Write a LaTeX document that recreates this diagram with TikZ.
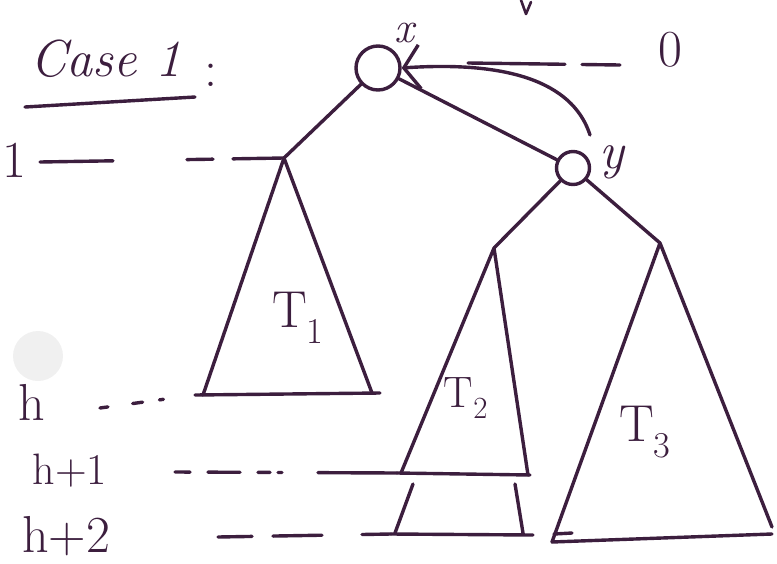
\documentclass[tikz,border=0pt]{standalone}
\usetikzlibrary{arrows.meta, positioning}
\definecolor{pen}{RGB}{60,30,62}
\tikzset{
    ink/.style={draw=pen, line width=3.4pt, line cap=round, line join=round},
    vtx/.style={circle, draw=pen, line width=3.4pt, inner sep=0pt},
    lab/.style={text=pen, inner sep=0pt},
    big/.style={font=\fontsize{52}{56}\selectfont},
    mid/.style={font=\fontsize{44}{48}\selectfont}
}

\begin{document}
\begin{tikzpicture}[x=1pt, y=-1pt]
    \useasboundingbox (0,0) rectangle (777,563);
    % scan shadow
    \fill[gray!12] (38,356) circle (25pt);
    \draw[ink, line width=2.6pt] (521,0) -- (526,14) -- (531,2);

    % title
    \node (title) [lab, big, anchor=base west] at (30,76) {\itshape Case 1};
    \node (colon) [lab, big, anchor=base] at (211,86) {:};
    \coordinate (ulA) at (25,107);
    \coordinate (ulB) at (195,97);
    \draw [ink] (ulA) -- (ulB);

    % tree
    \node (x) [vtx, minimum width=44pt, minimum height=38pt] at (378,68) {};
    \node (y) [vtx, minimum width=33pt, minimum height=30pt] at (573,168) {};
    \node (xl) [lab, mid, anchor=base] at (404,42) {\itshape x};
    \node (yl) [lab, big] at (612,162) {\itshape y};
    \coordinate (t1) at (284,158);
    \coordinate (t1bl) at (203,395);
    \coordinate (t1br) at (372,393);
    \coordinate (t2) at (494,248);
    \coordinate (t2bl) at (401,473);
    \coordinate (t2br) at (528,475);
    \coordinate (t3) at (660,243);
    \coordinate (t3bl) at (552,542);
    \coordinate (t3br) at (772,527);
    \draw [ink] (x) -- (t1);
    \draw [ink] (x) -- (y);
    \draw [ink] (y) -- (t2);
    \draw [ink] (y) -- (t3);

    % subtrees
    \draw [ink] (t1bl) -- (t1) -- (t1br);
    \draw [ink] ([xshift=-8pt]t1bl) -- ([xshift=8pt]t1br);
    \draw [ink] (t2bl) -- (t2) -- (t2br);
    \draw [ink] ([xshift=-4pt]t2bl) -- ([xshift=2pt]t2br);
    \draw [ink] (413,484) -- (395,533);
    \draw [ink] (515,484) -- (523,533);
    \draw [ink] (391,534) -- (533,535);
    \draw [ink] (t3bl) -- (t3) -- (t3br);
    \draw [ink] (t3bl) -- (772,534);
    \draw [ink] (554,534) -- (572,533);
    \node (T1) [lab, big] at (298,318) {T\textsubscript{1}};
    \node (T2) [lab, mid] at (466,398) {T\textsubscript{2}};
    \node (T3) [lab, big] at (645,432) {T\textsubscript{3}};

    % rotation arrow
    \coordinate (rs) at (590,135);
    \draw [ink, -{Straight Barb[length=16pt, width=44pt]}] (rs) .. controls (575,88) and (520,60) .. (x.east);

    % levels
    \node (zero) [lab, big] at (670,50) {0};
    \node (one) [lab, big] at (14,160) {1};
    \node (lh) [lab, big] at (32,402) {h};
    \node (lh1) [lab, mid] at (70,471) {h+1};
    \node (lh2) [lab, big] at (66,536) {h+2};
    \coordinate (lv0) at (468,63);
    \coordinate (lv0e) at (620,65);
    \coordinate (lv1) at (40,162);
    \coordinate (lvh) at (100,408);
    \coordinate (lvh1) at (175,472);
    \coordinate (lvh2) at (218,537);
    \draw [ink, dash pattern=on 97pt off 17pt on 40pt off 20pt] (lv0) -- (lv0e);
    \draw [ink, dash pattern=on 73pt off 74pt on 26pt off 20pt on 60pt] (lv1) -- (t1);
    \draw [ink, dash pattern=on 8pt off 25pt on 10pt off 17pt on 4pt off 80pt] (lvh) -- ([xshift=-8pt]t1bl);
    \draw [ink, dash pattern=on 15pt off 18pt on 32pt off 18pt on 12pt off 8pt on 4pt off 36pt on 90pt] (lvh1) -- ([xshift=-4pt]t2bl);
    \draw [ink, dash pattern=on 34pt off 21pt on 49pt off 40pt on 60pt] (lvh2) -- (391,534);
\end{tikzpicture}
\end{document}
